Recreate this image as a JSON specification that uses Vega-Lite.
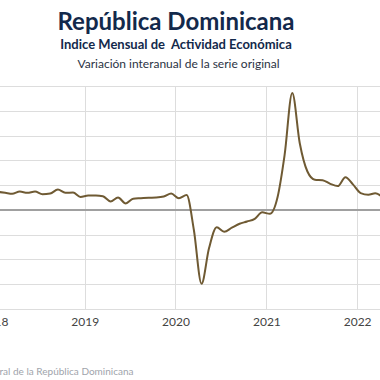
{
  "$schema": "https://vega.github.io/schema/vega-lite/v6.json",
  "width": 386,
  "height": 223,
  "autosize": {"type": "none"},
  "padding": {"left": -6, "top": 86, "right": 0, "bottom": 71},
  "background": "white",
  "config": {"view": {"stroke": null}},
  "title": {
    "text": "República Dominicana",
    "subtitle": "Indice Mensual de \u00a0Actividad Económica",
    "anchor": "middle",
    "frame": "group",
    "dx": -11,
    "offset": 5,
    "font": "Lato",
    "fontSize": 24,
    "fontWeight": "bold",
    "color": "#13294b",
    "subtitleFont": "Lato",
    "subtitleFontSize": 13,
    "subtitleFontWeight": "bold",
    "subtitleColor": "#13294b",
    "subtitlePadding": 4
  },
  "data": {
    "values": [
      {"date": "2018-01-15", "v": 7.3},
      {"date": "2018-02-15", "v": 6.9},
      {"date": "2018-03-15", "v": 6.5},
      {"date": "2018-04-15", "v": 7.4},
      {"date": "2018-05-15", "v": 6.9},
      {"date": "2018-06-15", "v": 7.4},
      {"date": "2018-07-15", "v": 6.3},
      {"date": "2018-08-15", "v": 6.6},
      {"date": "2018-09-15", "v": 8.2},
      {"date": "2018-10-15", "v": 6.9},
      {"date": "2018-11-15", "v": 7.0},
      {"date": "2018-12-15", "v": 5.2},
      {"date": "2019-01-15", "v": 5.8},
      {"date": "2019-02-15", "v": 5.8},
      {"date": "2019-03-15", "v": 5.5},
      {"date": "2019-04-15", "v": 3.4},
      {"date": "2019-05-15", "v": 5.0},
      {"date": "2019-06-15", "v": 2.6},
      {"date": "2019-07-15", "v": 4.5},
      {"date": "2019-08-15", "v": 4.7},
      {"date": "2019-09-15", "v": 4.9},
      {"date": "2019-10-15", "v": 5.0},
      {"date": "2019-11-15", "v": 5.4},
      {"date": "2019-12-15", "v": 6.6},
      {"date": "2020-01-15", "v": 4.7},
      {"date": "2020-02-15", "v": 6.0},
      {"date": "2020-03-15", "v": -8.0},
      {"date": "2020-04-15", "v": -29.8},
      {"date": "2020-05-15", "v": -15.5},
      {"date": "2020-06-15", "v": -7.0},
      {"date": "2020-07-15", "v": -8.8},
      {"date": "2020-08-15", "v": -7.2},
      {"date": "2020-09-15", "v": -5.6},
      {"date": "2020-10-15", "v": -4.7},
      {"date": "2020-11-15", "v": -3.6},
      {"date": "2020-12-15", "v": -1.0},
      {"date": "2021-01-15", "v": -1.6},
      {"date": "2021-02-15", "v": 5.2},
      {"date": "2021-03-15", "v": 22.0},
      {"date": "2021-04-15", "v": 47.2},
      {"date": "2021-05-15", "v": 27.0},
      {"date": "2021-06-15", "v": 15.5},
      {"date": "2021-07-15", "v": 12.2},
      {"date": "2021-08-15", "v": 12.0},
      {"date": "2021-09-15", "v": 10.5},
      {"date": "2021-10-15", "v": 9.6},
      {"date": "2021-11-15", "v": 13.2},
      {"date": "2021-12-15", "v": 10.3},
      {"date": "2022-01-15", "v": 6.8},
      {"date": "2022-02-15", "v": 6.1},
      {"date": "2022-03-15", "v": 6.7},
      {"date": "2022-04-15", "v": 5.0}
    ]
  },
  "layer": [
    {
      "mark": {"type": "rule", "color": "#a0a0a0", "strokeWidth": 1.8},
      "encoding": {
        "y": {
          "datum": 0,
          "type": "quantitative",
          "scale": {"domain": [-40, 50], "nice": false, "zero": false},
          "axis": {
            "values": [-40, -30, -20, -10, 0, 10, 20, 30, 40, 50],
            "labels": false, "ticks": false, "domain": false,
            "grid": true, "gridColor": "#dddddd", "gridWidth": 1,
            "title": "Variación interanual de la serie original",
            "titleAngle": 0, "titleX": 184, "titleY": -23,
            "titleAlign": "center", "titleBaseline": "middle",
            "titleFont": "Lato", "titleFontSize": 12, "titleFontWeight": "normal",
            "titleColor": "#2b3344"
          }
        }
      }
    },
    {
      "mark": {"type": "line", "color": "#6f5a33", "strokeWidth": 2, "interpolate": "monotone", "clip": true},
      "encoding": {
        "x": {
          "field": "date",
          "type": "temporal",
          "scale": {"domain": [{"year": 2018, "month": 1, "date": 1}, {"year": 2022, "month": 4, "date": 3}]},
          "axis": {
            "format": "%Y",
            "tickCount": {"interval": "year", "step": 1},
            "grid": true, "gridColor": "#dddddd",
            "ticks": false,
            "domain": true, "domainColor": "#dddddd",
            "labelFlush": false, "labelOverlap": false, "labelBound": false,
            "labelFont": "Lato", "labelFontSize": 12, "labelColor": "#444444", "labelPadding": 7,
            "title": "Fuente: Banco Central de la República Dominicana",
            "titleX": 139, "titleY": 62,
            "titleAlign": "right", "titleBaseline": "middle",
            "titleFont": "Lato", "titleFontSize": 10, "titleFontWeight": "normal",
            "titleColor": "#a0a4ab"
          }
        },
        "y": {
          "field": "v",
          "type": "quantitative",
          "scale": {"domain": [-40, 50], "nice": false, "zero": false},
          "axis": {
            "values": [-40, -30, -20, -10, 0, 10, 20, 30, 40, 50],
            "labels": false, "ticks": false, "domain": false,
            "grid": true, "gridColor": "#dddddd", "gridWidth": 1,
            "title": "Variación interanual de la serie original",
            "titleAngle": 0, "titleX": 184, "titleY": -23,
            "titleAlign": "center", "titleBaseline": "middle",
            "titleFont": "Lato", "titleFontSize": 12, "titleFontWeight": "normal",
            "titleColor": "#2b3344"
          }
        }
      }
    }
  ]
}
